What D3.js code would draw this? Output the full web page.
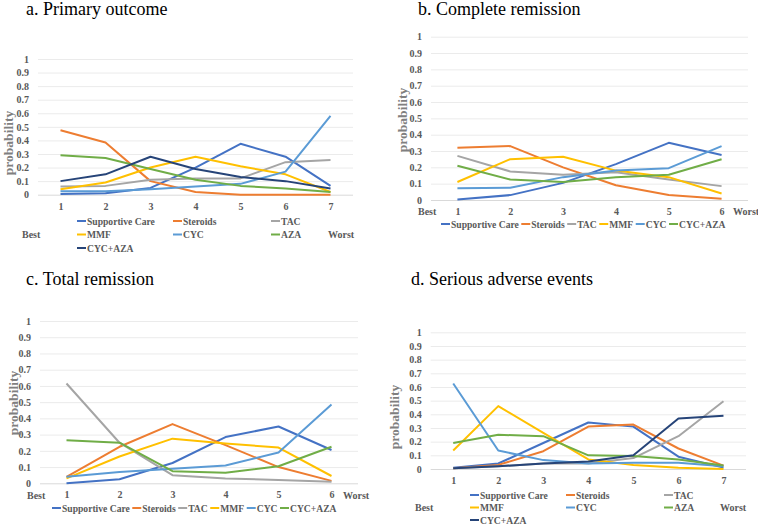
<!DOCTYPE html>
<html>
<head>
<meta charset="utf-8">
<script src="https://cdn.jsdelivr.net/npm/d3@7"></script>
<style>
  html, body { margin: 0; padding: 0; background: #fff; }
  svg { display: block; }
  svg text { font-family: "Liberation Serif", "Times New Roman", Times, "DejaVu Serif", serif; }
</style>
</head>
<body>
<svg id="chart" width="758" height="525"></svg>
<script>
// ---------- data ----------
const seriesSeven = ["Supportive Care", "Steroids", "TAC", "MMF", "CYC", "AZA", "CYC+AZA"];
const seriesSix = ["Supportive Care", "Steroids", "TAC", "MMF", "CYC", "CYC+AZA"];
const colorsSeven = ["#4472C4", "#ED7D31", "#A5A5A5", "#FFC000", "#5B9BD5", "#70AD47", "#264478"];
const colorsSix = ["#4472C4", "#ED7D31", "#A5A5A5", "#FFC000", "#5B9BD5", "#70AD47"];
const ranksSeven = ["1", "2", "3", "4", "5", "6", "7"];
const ranksSix = ["1", "2", "3", "4", "5", "6"];
const yTickValues = [0, 0.1, 0.2, 0.3, 0.4, 0.5, 0.6, 0.7, 0.8, 0.9, 1];
const yTickLabels = ["0", "0.1", "0.2", "0.3", "0.4", "0.5", "0.6", "0.7", "0.8", "0.9", "1"];
const titles = ["a. Primary outcome", "b. Complete remission", "c. Total remission", "d. Serious adverse events"];

// series values, in the order of the series names above
const primaryOutcome = [
  [0.005, 0.01, 0.05, 0.20, 0.375, 0.28, 0.065],   // Supportive Care
  [0.475, 0.385, 0.10, 0.02, 0.0, 0.0, 0.0],       // Steroids
  [0.06, 0.065, 0.11, 0.12, 0.12, 0.24, 0.255],    // TAC
  [0.04, 0.09, 0.20, 0.28, 0.21, 0.15, 0.02],      // MMF
  [0.025, 0.025, 0.04, 0.06, 0.08, 0.17, 0.58],    // CYC
  [0.29, 0.27, 0.19, 0.11, 0.065, 0.045, 0.02],    // AZA
  [0.10, 0.15, 0.28, 0.19, 0.13, 0.10, 0.045]      // CYC+AZA
];
const completeRemission = [
  [0.003, 0.03, 0.105, 0.22, 0.35, 0.275],
  [0.32, 0.33, 0.20, 0.09, 0.03, 0.008],
  [0.27, 0.175, 0.155, 0.17, 0.125, 0.085],
  [0.11, 0.25, 0.265, 0.18, 0.14, 0.04],
  [0.072, 0.075, 0.14, 0.18, 0.195, 0.33],
  [0.21, 0.125, 0.11, 0.14, 0.155, 0.25]
];
const totalRemission = [
  [0.0, 0.025, 0.125, 0.285, 0.35, 0.205],
  [0.04, 0.225, 0.365, 0.235, 0.10, 0.015],
  [0.615, 0.25, 0.05, 0.03, 0.02, 0.01],
  [0.03, 0.165, 0.275, 0.245, 0.22, 0.045],
  [0.04, 0.07, 0.09, 0.11, 0.19, 0.485],
  [0.265, 0.25, 0.075, 0.065, 0.105, 0.225]
];
const seriousAdverseEvents = [
  [0.01, 0.04, 0.19, 0.34, 0.31, 0.09, 0.01],
  [0.005, 0.03, 0.13, 0.31, 0.325, 0.15, 0.025],
  [0.005, 0.02, 0.04, 0.04, 0.08, 0.24, 0.495],
  [0.135, 0.46, 0.265, 0.07, 0.03, 0.01, 0.0],
  [0.625, 0.135, 0.065, 0.04, 0.045, 0.045, 0.02],
  [0.19, 0.25, 0.24, 0.10, 0.095, 0.07, 0.025],
  [0.005, 0.02, 0.04, 0.055, 0.10, 0.37, 0.39]
];

// ---------- layout ----------
const svg = d3.select("#chart");
const textGrey = "#595959";
const serifFont = "'Liberation Serif', 'Times New Roman', Times, 'DejaVu Serif', serif";

const panels = [
  { title: titles[0], tx: 26, ty: 15, names: seriesSeven, colors: colorsSeven, ranks: ranksSeven, values: primaryOutcome,
    x0: 38, x1: 353, yTop: 59, yBot: 194.7, probX: 8, probY: 143,
    legend: "grid", legRows: [221, 234.5, 248], legCols: [77, 173, 271],
    bestX: 22, worstX: 328, bwY: 234.5 },
  { title: titles[1], tx: 418, ty: 15, names: seriesSix, colors: colorsSix, ranks: ranksSix, values: completeRemission,
    x0: 431, x1: 748, yTop: 36.7, yBot: 200, probX: 402, probY: 120,
    legend: "row", legY: 224, legX: 441,
    bestX: 418, worstX: 733, bwY: 211.7 },
  { title: titles[2], tx: 26, ty: 285, names: seriesSix, colors: colorsSix, ranks: ranksSix, values: totalRemission,
    x0: 40, x1: 358, yTop: 321, yBot: 483.3, probX: 13, probY: 403,
    legend: "row", legY: 508, legX: 52,
    bestX: 27, worstX: 343, bwY: 495.7 },
  { title: titles[3], tx: 411, ty: 285, names: seriesSeven, colors: colorsSeven, ranks: ranksSeven, values: seriousAdverseEvents,
    x0: 430.7, x1: 746, yTop: 332.3, yBot: 469, probX: 394, probY: 417,
    legend: "grid", legRows: [495, 507.5, 520], legCols: [470, 566, 664],
    bestX: 415, worstX: 720, bwY: 507.5 }
];

panels.forEach(p => {
  const g = svg.append("g").attr("font-family", serifFont);

  // title
  g.append("text")
    .attr("x", p.tx).attr("y", p.ty)
    .attr("font-family", serifFont)
    .attr("font-size", 18).attr("fill", "#000")
    .text(p.title);

  const x = d3.scalePoint().domain(p.ranks).range([p.x0, p.x1]).padding(0.5);
  const y = d3.scaleLinear().domain([0, 1]).range([p.yBot, p.yTop]);

  // y axis with gridlines
  const yAxis = d3.axisLeft(y)
    .tickValues(yTickValues)
    .tickFormat((d, i) => yTickLabels[i])
    .tickSize(-(p.x1 - p.x0))
    .tickPadding(9);
  const ya = g.append("g").attr("transform", `translate(${p.x0},0)`).call(yAxis);
  ya.attr("font-family", serifFont);
  ya.select(".domain").remove();
  ya.selectAll(".tick line").attr("stroke", d => d === 0 ? "#D9D9D9" : "#EBEBEB").attr("stroke-width", 1);
  ya.selectAll(".tick text")
    .attr("fill", textGrey).attr("font-size", 10).attr("font-weight", "bold")
    .attr("font-family", serifFont);

  // x axis
  const xAxis = d3.axisBottom(x).tickSize(0).tickPadding(8);
  const xa = g.append("g").attr("transform", `translate(0,${p.yBot})`).call(xAxis);
  xa.attr("font-family", serifFont);
  xa.select(".domain").remove();
  xa.selectAll(".tick text")
    .attr("fill", textGrey).attr("font-size", 10).attr("font-weight", "bold")
    .attr("font-family", serifFont);

  // y-axis title
  g.append("text")
    .attr("transform", `translate(${p.probX},${p.probY}) rotate(-90)`)
    .attr("text-anchor", "middle").attr("dominant-baseline", "central")
    .attr("font-family", serifFont)
    .attr("font-size", 13.5).attr("font-weight", "bold").attr("fill", "#7F7F7F")
    .text("probability");

  // lines
  const line = d3.line().x((d, i) => x(p.ranks[i])).y(d => y(d));
  p.values.forEach((vals, si) => {
    g.append("path")
      .datum(vals)
      .attr("d", line)
      .attr("fill", "none")
      .attr("stroke", p.colors[si])
      .attr("stroke-width", 2)
      .attr("stroke-linejoin", "round");
  });

  // Best / Worst
  g.append("text").attr("x", p.bestX).attr("y", p.bwY).attr("dominant-baseline", "central")
    .attr("font-family", serifFont)
    .attr("font-size", 10).attr("font-weight", "bold").attr("fill", textGrey).text("Best");
  g.append("text").attr("x", p.worstX).attr("y", p.bwY).attr("dominant-baseline", "central")
    .attr("font-family", serifFont)
    .attr("font-size", 10).attr("font-weight", "bold").attr("fill", textGrey).text("Worst");

  // legend
  const legFont = 9.6;
  if (p.legend === "grid") {
    p.names.forEach((name, i) => {
      const row = Math.floor(i / 3), col = i % 3;
      const lx = p.legCols[col], ly = p.legRows[row];
      g.append("line").attr("x1", lx).attr("x2", lx + 9).attr("y1", ly).attr("y2", ly)
        .attr("stroke", p.colors[i]).attr("stroke-width", 2);
      g.append("text").attr("x", lx + 10).attr("y", ly).attr("dominant-baseline", "central")
        .attr("font-family", serifFont)
        .attr("font-size", legFont).attr("font-weight", "bold").attr("fill", textGrey).text(name);
    });
  } else {
    let cx = p.legX;
    p.names.forEach((name, i) => {
      g.append("line").attr("x1", cx).attr("x2", cx + 9).attr("y1", p.legY).attr("y2", p.legY)
        .attr("stroke", p.colors[i]).attr("stroke-width", 2);
      const t = g.append("text").attr("x", cx + 10).attr("y", p.legY).attr("dominant-baseline", "central")
        .attr("font-family", serifFont)
        .attr("font-size", legFont).attr("font-weight", "bold").attr("fill", textGrey).text(name);
      cx += 10 + t.node().getComputedTextLength() + 2.5;
    });
  }
});
</script>
</body>
</html>
